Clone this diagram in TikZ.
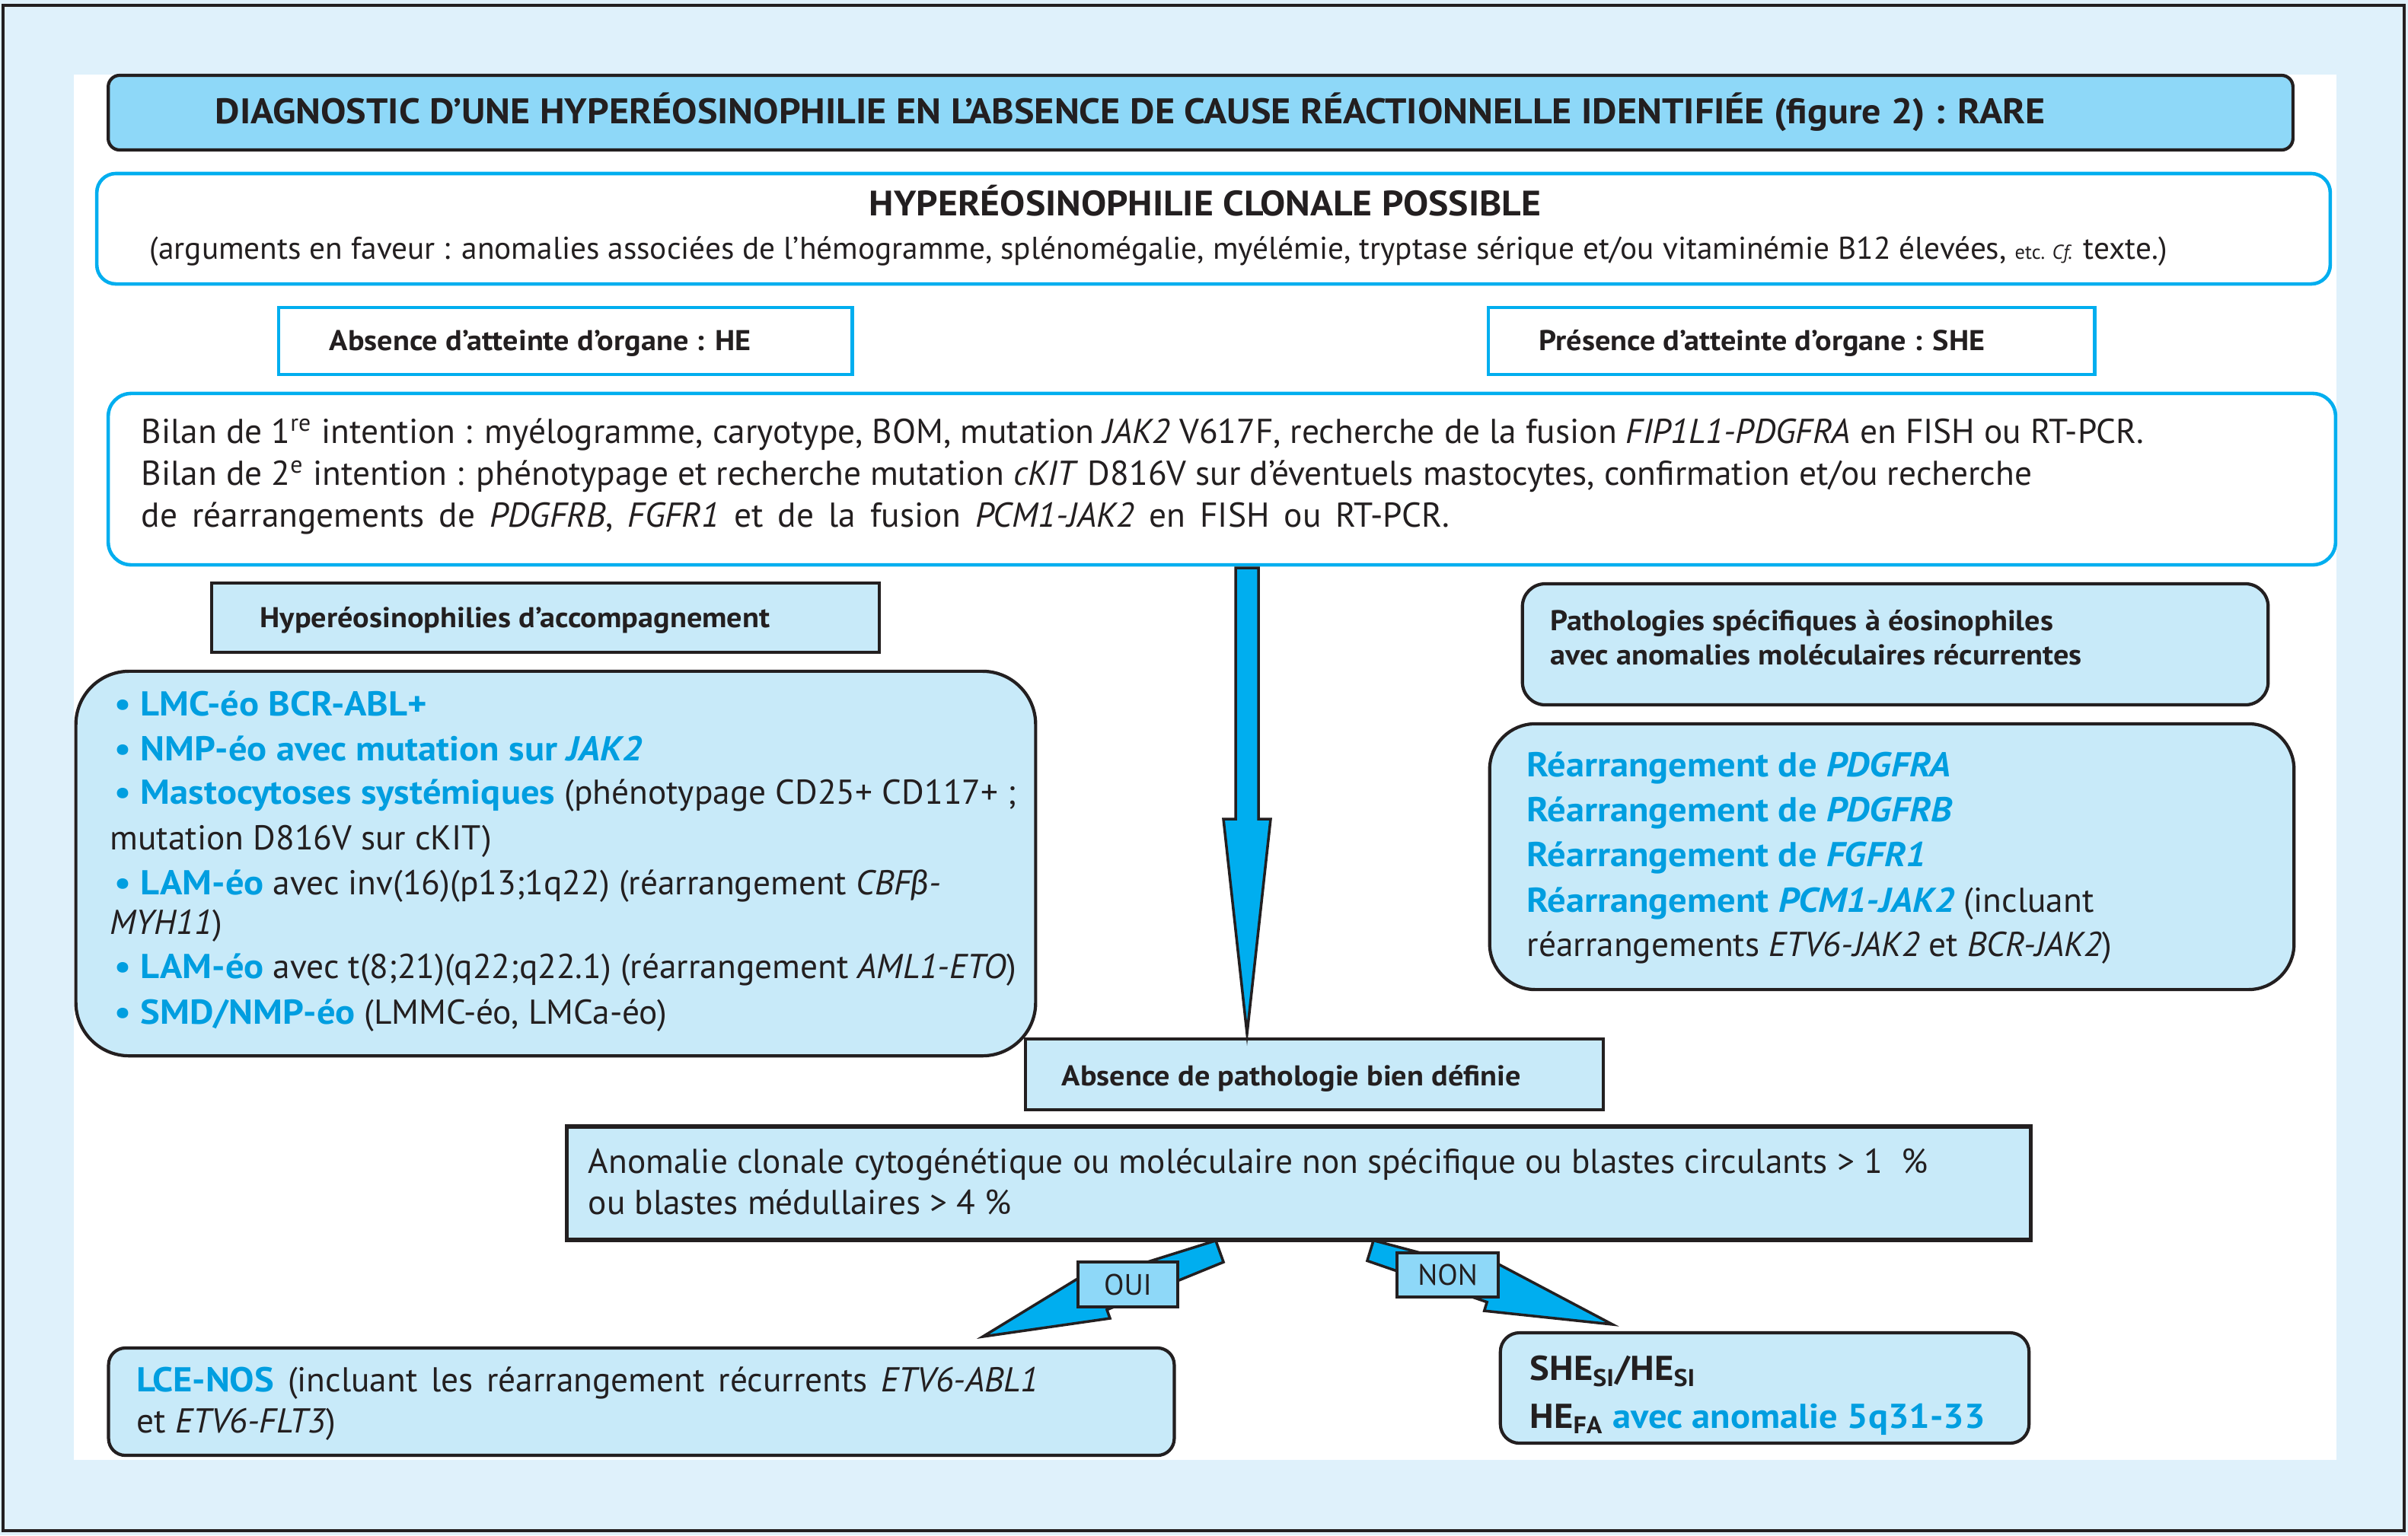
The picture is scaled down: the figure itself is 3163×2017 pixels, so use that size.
\documentclass[tikz,border=0pt]{standalone}
\usepackage{fontspec}
\setmainfont{PT Sans}[BoldFeatures={FakeStretch=1.07},BoldItalicFeatures={FakeStretch=1.07}]
\newfontfamily\grk{Lato}
\usetikzlibrary{calc}
\definecolor{bgout}{RGB}{223,241,251}
\definecolor{boxfill}{RGB}{200,234,249}
\definecolor{headfill}{RGB}{142,216,248}
\definecolor{cyanline}{RGB}{0,174,239}
\definecolor{cytext}{RGB}{0,158,224}
\definecolor{dark}{RGB}{35,31,32}
\newcommand\cy{\color{cytext}\bfseries}
\begin{document}
\begin{tikzpicture}[x=0.01cm,y=-0.01cm,
  darkbox/.style={draw=dark,line width=1.2pt,fill=boxfill,inner sep=0pt},
  headbox/.style={draw=dark,line width=1.2pt,fill=headfill,inner sep=0pt},
  cyanbox/.style={draw=cyanline,line width=1.3pt,fill=white,inner sep=0pt},
  txt/.style={anchor=base west,inner sep=0pt,text=dark},
  ctxt/.style={anchor=base,inner sep=0pt,text=dark},
  arrowst/.style={draw=dark,line width=1pt,fill=cyanline,line join=miter},
  ftitle/.style={font=\fontsize{13.3}{15}\selectfont\bfseries},
  fbig/.style={font=\fontsize{12.9}{15}\selectfont},
  fmid/.style={font=\fontsize{11.75}{13}\selectfont},
  fhead/.style={font=\fontsize{10.7}{13}\selectfont\bfseries},
]
\useasboundingbox (0,0) rectangle (3163,2017);
\fill[bgout] (0,0) rectangle (3163,2017);
\draw[dark,line width=1pt] (4,7) rectangle (3158,2011);
\fill[white] (97,98) rectangle (3069,1918);

% boxes
\node[headbox,rounded corners=0.15cm,minimum width=28.68cm,minimum height=0.98cm] (title) at (1577,148) {};
\node[cyanbox,rounded corners=0.25cm,minimum width=29.32cm,minimum height=1.45cm] (clon) at (1594,300.5) {};
\node[cyanbox,minimum width=7.53cm,minimum height=0.88cm] (he) at (742.5,448) {};
\node[cyanbox,minimum width=7.96cm,minimum height=0.88cm] (she) at (2353,448) {};
\node[cyanbox,rounded corners=0.3cm,minimum width=29.24cm,minimum height=2.25cm] (bilan) at (1605,629.5) {};
\node[darkbox,minimum width=8.77cm,minimum height=0.91cm] (acc) at (716.5,811.5) {};
\node[darkbox,rounded corners=0.7cm,minimum width=12.6cm,minimum height=5.05cm] (list) at (730,1134.5) {};
\node[darkbox,rounded corners=0.3cm,minimum width=9.79cm,minimum height=1.59cm] (path) at (2489.5,846.5) {};
\node[darkbox,rounded corners=0.6cm,minimum width=10.56cm,minimum height=3.49cm] (rearr) at (2485,1125.5) {};
\node[darkbox,minimum width=7.59cm,minimum height=0.93cm] (abs) at (1726.5,1411.5) {};
\node[darkbox,line width=1.5pt,minimum width=19.22cm,minimum height=1.49cm] (anom) at (1706,1554.5) {};
\node[darkbox,rounded corners=0.22cm,minimum width=13.99cm,minimum height=1.41cm] (lce) at (842.5,1841.5) {};
\node[darkbox,rounded corners=0.25cm,minimum width=6.94cm,minimum height=1.45cm] (shebox) at (2318,1823.5) {};

% main arrow
\coordinate (a1s) at (1638,746);
\coordinate (a1e) at (1638,1358);
\draw[arrowst] ($(a1s)+(-15,0)$) -- ($(a1s)+(15,0)$) -- ($(a1s)+(15,330)$) -- ($(a1s)+(31,330)$) -- (a1e)
  -- ($(a1s)+(-31,330)$) -- ($(a1s)+(-15,330)$) -- cycle;

% OUI arrow
\coordinate (oS) at (1602,1644);
\coordinate (oT) at (1291,1756);
\coordinate (oH) at ($(oS)!0.5!(oT)$);
\draw[arrowst] ($(oS)!0.15cm!90:(oT)$) -- ($(oH)!0.22cm!90:(oT)$) -- ($(oH)!0.34cm!90:(oT)$) -- (oT)
  -- ($(oH)!0.34cm!-90:(oT)$) -- ($(oH)!0.22cm!-90:(oT)$) -- ($(oS)!0.15cm!-90:(oT)$) -- cycle;
% NON arrow
\coordinate (nS) at (1800,1643);
\coordinate (nT) at (2118,1740);
\coordinate (nH) at ($(nS)!0.5!(nT)$);
\draw[arrowst] ($(nS)!0.14cm!90:(nT)$) -- ($(nH)!0.2cm!90:(nT)$) -- ($(nH)!0.32cm!90:(nT)$) -- (nT)
  -- ($(nH)!0.32cm!-90:(nT)$) -- ($(nH)!0.2cm!-90:(nT)$) -- ($(nS)!0.14cm!-90:(nT)$) -- cycle;

\node[headbox,minimum width=1.31cm,minimum height=0.59cm,font=\fontsize{11}{13}\selectfont,text=dark] (oui) at (1481.5,1687.5) {OUI};
\node[headbox,minimum width=1.33cm,minimum height=0.58cm,font=\fontsize{11}{13}\selectfont,text=dark] (non) at (1901.5,1675) {NON};

% texts
\node[txt,ftitle] (ttitle) at (282,162) {DIAGNOSTIC D’UNE HYPERÉOSINOPHILIE EN L’ABSENCE DE CAUSE RÉACTIONNELLE IDENTIFIÉE (figure 2) : RARE};
\node[ctxt,font=\fontsize{13.2}{15}\selectfont\bfseries] (tclon1) at (1583,283) {HYPERÉOSINOPHILIE CLONALE POSSIBLE};
\node[txt,fmid] (tclon2) at (196,340) {(arguments en faveur : anomalies associées de l’hémogramme, splénomégalie, myélémie, tryptase sérique et/ou vitaminémie B12 élevées, {\fontsize{7.5}{8}\selectfont etc. \textit{Cf.}} texte.)};
\node[txt,fhead] (the) at (432,460) {Absence d’atteinte d’organe : HE};
\node[txt,fhead] (tshe) at (2021,460) {Présence d’atteinte d’organe : SHE};

\node[txt,fbig] (tb1) at (185,582) {Bilan de 1\textsuperscript{re} intention : myélogramme, caryotype, BOM, mutation \textit{JAK2} V617F, recherche de la fusion \textit{FIP1L1-PDGFRA} en FISH ou RT-PCR.};
\node[txt,fbig] (tb2) at (185,637) {Bilan de 2\textsuperscript{e} intention : phénotypage et recherche mutation \textit{cKIT} D816V sur d’éventuels mastocytes, confirmation et/ou recherche};
\node[txt,fbig] (tb3) at (185,692) {\makebox[17.17cm][s]{de réarrangements de \textit{PDGFRB}, \textit{FGFR1} et de la fusion \textit{PCM1-JAK2} en FISH ou RT-PCR.}};

\node[txt,fhead] (tacc) at (341,824) {Hyperéosinophilies d’accompagnement};
\node[txt,fbig] (tl1) at (150,940) {{\cy • LMC-éo BCR-ABL+}};
\node[txt,fbig] (tl2) at (150,999) {{\cy • NMP-éo avec mutation sur \textit{JAK2}}};
\node[txt,fbig] (tl3) at (150,1056) {{\cy • Mastocytoses systémiques} (phénotypage CD25+ CD117+ ;};
\node[txt,fbig] (tl4) at (144,1116) {mutation D816V sur cKIT)};
\node[txt,fbig] (tl5) at (150,1175) {{\cy • LAM-éo} avec inv(16)(p13;1q22) (réarrangement \textit{CBF{\grk β}-}};
\node[txt,fbig] (tl6) at (144,1227) {\textit{MYH11})};
\node[txt,fbig] (tl7) at (150,1285) {{\cy • LAM-éo} avec t(8;21)(q22;q22.1) (réarrangement \textit{AML1-ETO})};
\node[txt,fbig] (tl8) at (150,1345) {{\cy • SMD/NMP-éo} (LMMC-éo, LMCa-éo)};

\node[txt,fhead] (tp1) at (2036,828) {Pathologies spécifiques à éosinophiles};
\node[txt,fhead] (tp2) at (2036,873) {avec anomalies moléculaires récurrentes};
\node[txt,fbig] (tr1) at (2005,1020) {{\cy Réarrangement de \textit{PDGFRA}}};
\node[txt,fbig] (tr2) at (2005,1079) {{\cy Réarrangement de \textit{PDGFRB}}};
\node[txt,fbig] (tr3) at (2005,1138) {{\cy Réarrangement de \textit{FGFR1}}};
\node[txt,fbig] (tr4) at (2005,1198) {{\cy Réarrangement \textit{PCM1-JAK2}} (incluant};
\node[txt,fbig] (tr5) at (2005,1256) {réarrangements \textit{ETV6-JAK2} et \textit{BCR-JAK2})};

\node[txt,fhead] (tabs) at (1394,1426) {Absence de pathologie bien définie};
\node[txt,fbig] (ta1) at (772,1541) {Anomalie clonale cytogénétique ou moléculaire non spécifique ou blastes circulants > 1~~\%};
\node[txt,fbig] (ta2) at (772,1595) {ou blastes médullaires > 4 \%};

\node[txt,fbig] (tlce1) at (179,1828) {\makebox[11.84cm][s]{{\cy LCE-NOS} (incluant les réarrangement récurrents \textit{ETV6-ABL1}}};
\node[txt,fbig] (tlce2) at (179,1882) {et \textit{ETV6-FLT3})};
\node[txt,fbig] (tshe1) at (2009,1813) {\bfseries SHE\textsubscript{SI}/HE\textsubscript{SI}};
\node[txt,fbig] (tshe2) at (2009,1876) {\textbf{HE\textsubscript{FA}} {\cy avec anomalie 5q31-33}};
\end{tikzpicture}
\end{document}
